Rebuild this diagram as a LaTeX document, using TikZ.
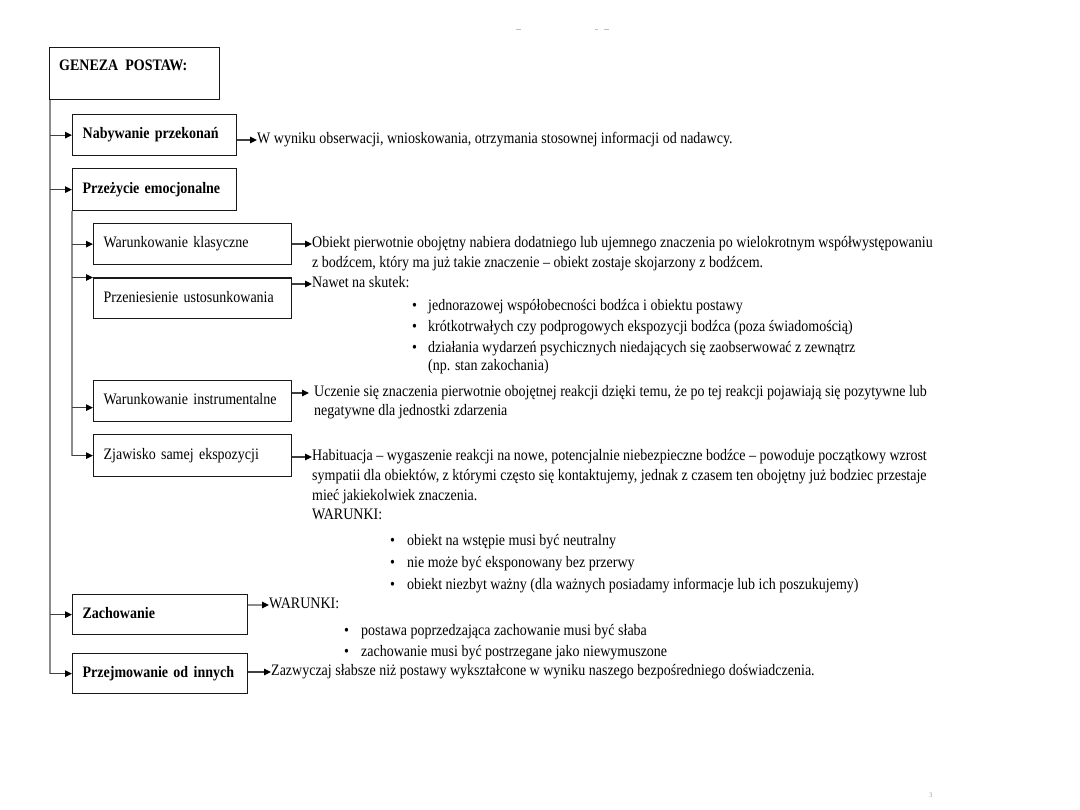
\documentclass[tikz,border=0pt]{standalone}
\usepackage{fontspec}
\setmainfont{Liberation Serif}[FakeStretch=0.875]
\usetikzlibrary{arrows.meta,calc}
\begin{document}
\begin{tikzpicture}[x=1pt,y=-1pt,
  every node/.style={inner sep=0pt},
  txt/.style={anchor=west, inner sep=0pt, text height=11pt, text depth=3.5pt, text=black, font=\fontsize{16}{20}\selectfont},
  box/.style={draw=black!90, line width=1.3pt, anchor=north west, inner ysep=0pt, inner xsep=10pt,
     align=left, text height=11pt, text depth=3.5pt, text=black, font=\fontsize{16}{20}\selectfont},
  bbox/.style={box, font=\fontsize{16}{20}\selectfont\bfseries},
  arr/.style={draw=black!75, line width=1.1pt, -{Triangle[length=7pt,width=6.5pt,color=black]}},
  garr/.style={arr, draw=black!45},
  trunk/.style={draw=black!45, line width=1.1pt},
  faint/.style={draw=black!25, line width=1pt}
]
\useasboundingbox (0,0) rectangle (1080,810);
\fill[white] (0,0) rectangle (1080,810);

% faint page remnants
\draw[faint] (516,30) -- (521,30);
\draw[faint] (595,30) -- (598,30);
\draw[faint] (604,30) -- (609,30);
\node[text=black!40, font=\fontsize{7}{7}\selectfont] (pg) at (931,795) {3};

% boxes
\node[box, minimum width=170pt, minimum height=52pt] (G) at (49,47) {};
\node[txt, font=\fontsize{16}{20}\selectfont\bfseries] (Gt) at (59,67) {GENEZA\ \ POSTAW:};

\node[bbox, minimum width=164pt, minimum height=41pt, text width=144pt] (N1) at (72,114) {Nabywanie przekonań};
\node[bbox, minimum width=164pt, minimum height=42pt, text width=144pt] (N2) at (72,168) {Przeżycie emocjonalne};

\node[box, minimum width=198pt, minimum height=41pt, text width=178pt] (W1) at (93,223) {Warunkowanie klasyczne};
\node[box, minimum width=198pt, minimum height=40.5pt, text width=178pt] (W2) at (93,277.5) {Przeniesienie ustosunkowania};
\node[box, minimum width=198pt, minimum height=41pt, text width=178pt] (W3) at (93,380) {Warunkowanie instrumentalne};
\node[box, minimum width=198pt, minimum height=42pt, text width=178pt] (W4) at (93,434) {Zjawisko samej ekspozycji};

\node[bbox, minimum width=175pt, minimum height=40pt, text width=155pt] (Z) at (72,594) {Zachowanie};
\node[bbox, minimum width=175pt, minimum height=40pt, text width=155pt] (P) at (72,653) {Przejmowanie od innych};

% texts
\node[txt] (T1) at (257,140) {W wyniku obserwacji, wnioskowania, otrzymania stosownej informacji od nadawcy.};

\node[txt] (a1) at (312,244) {Obiekt pierwotnie obojętny nabiera dodatniego lub ujemnego znaczenia po wielokrotnym współwystępowaniu};
\node[txt] (a2) at (312,264) {z bodźcem, który ma już takie znaczenie – obiekt zostaje skojarzony z bodźcem.};

\node[txt] (b0) at (312,284) {Nawet na skutek:};
\node[txt] (b1d) at (412,307) {•};
\node[txt] (b1) at (428,307) {jednorazowej współobecności bodźca i obiektu postawy};
\node[txt] (b2d) at (412,328) {•};
\node[txt] (b2) at (428,328) {krótkotrwałych czy podprogowych ekspozycji bodźca (poza świadomością)};
\node[txt] (b3d) at (412,349) {•};
\node[txt] (b3) at (428,349) {działania wydarzeń psychicznych niedających się zaobserwować z zewnątrz};
\node[txt] (b4) at (428,367) {(np. stan zakochania)};

\node[txt] (c1) at (314,393) {Uczenie się znaczenia pierwotnie obojętnej reakcji dzięki temu, że po tej reakcji pojawiają się pozytywne lub};
\node[txt] (c2) at (314,412) {negatywne dla jednostki zdarzenia};

\node[txt] (d1) at (312,457) {Habituacja – wygaszenie reakcji na nowe, potencjalnie niebezpieczne bodźce – powoduje początkowy wzrost};
\node[txt] (d2) at (312,477) {sympatii dla obiektów, z którymi często się kontaktujemy, jednak z czasem ten obojętny już bodziec przestaje};
\node[txt] (d3) at (312,497) {mieć jakiekolwiek znaczenia.};
\node[txt] (d4) at (312,516) {WARUNKI:};
\node[txt] (e1d) at (390,542) {•};
\node[txt] (e1) at (407,542) {obiekt na wstępie musi być neutralny};
\node[txt] (e2d) at (390,564) {•};
\node[txt] (e2) at (407,564) {nie może być eksponowany bez przerwy};
\node[txt] (e3d) at (390,586) {•};
\node[txt] (e3) at (407,586) {obiekt niezbyt ważny (dla ważnych posiadamy informacje lub ich poszukujemy)};

\node[txt] (z0) at (269,605) {WARUNKI:};
\node[txt] (f1d) at (344,632) {•};
\node[txt] (f1) at (361,632) {postawa poprzedzająca zachowanie musi być słaba};
\node[txt] (f2d) at (344,653) {•};
\node[txt] (f2) at (361,653) {zachowanie musi być postrzegane jako niewymuszone};

\node[txt] (p1) at (271,672) {Zazwyczaj słabsze niż postawy wykształcone w wyniku naszego bezpośredniego doświadczenia.};

% trunks
\coordinate (t0) at ($(G.south west)+(1,0)$);
\coordinate (t1) at (N2.south west);
\coordinate (w3in) at ([yshift=-6.5pt]W3.west);
\draw[trunk] (t0) -- (t0 |- P.west);
\draw[trunk] (t1) -- (t1 |- W4.west);

% incoming arrows
\draw[arr] (t0 |- N1.west) -- (N1.west);
\draw[arr] (t0 |- N2.west) -- (N2.west);
\draw[arr] (t1 |- W1.west) -- (W1.west);
\draw[arr] (t1 |- W2.north west) -- (W2.north west);
\draw[arr] (t1 |- w3in) -- (w3in);
\draw[arr] (t1 |- W4.west) -- (W4.west);
\draw[arr] (t0 |- Z.west) -- (Z.west);
\draw[arr] (t0 |- P.west) -- (P.west);

% outgoing arrows
\draw[arr] (N1.east |- T1.west) -- (T1.west);
\draw[arr] (W1.east |- a1.west) -- (a1.west);
\draw[arr] (W2.east |- b0.west) -- (b0.west);
\draw[arr] (W3.east |- c1.west) -- ([xshift=-5pt]c1.west);
\draw[arr] (W4.east |- d1.west) -- (d1.west);
\draw[garr] (Z.east |- z0.west) -- (z0.west);
\draw[arr] (P.east |- p1.west) -- (p1.west);
\end{tikzpicture}
\end{document}
